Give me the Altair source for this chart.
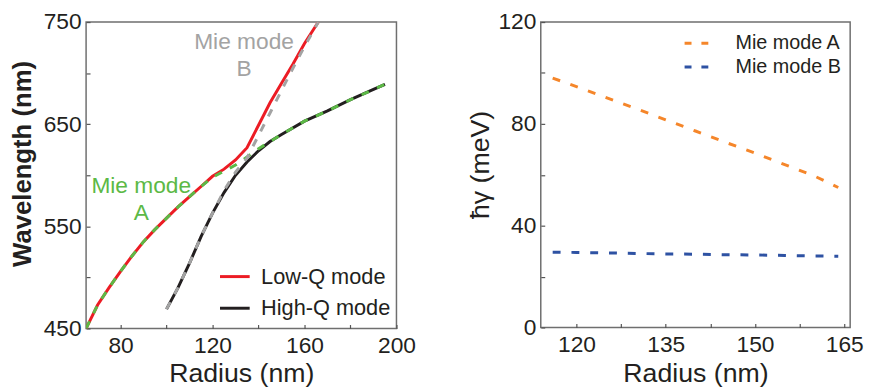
import altair as alt
import pandas as pd

# ---------------- Left panel data (wavelength vs radius) ----------------
low_q_r = [65, 70, 75, 80, 85, 90, 95, 100, 105, 110, 115, 120, 125, 130,
           135, 140, 145, 150, 155, 160, 166]
low_q_wl = [450, 473, 490, 506, 521, 535, 547, 558, 569, 579, 589, 599, 606, 615,
            627, 649, 671, 690, 709, 729, 750]

high_q_r = [100, 105, 110, 115, 120, 125, 130, 135, 140, 145, 150, 160, 170, 180, 190, 195]
high_q_wl = [469, 490, 514, 540, 563, 583, 600, 613, 624, 633, 640, 653, 663, 674, 684, 689]

mie_a_r = [65, 70, 75, 80, 85, 90, 95, 100, 105, 110, 115, 120, 125, 130, 135,
           140, 145, 150, 160, 170, 180, 190, 195]
mie_a_wl = [450, 473, 490, 506, 521, 535, 547, 558, 569, 579, 589, 598, 604, 610, 618,
            626, 633, 640, 653, 663, 674, 684, 689]

mie_b_r = [100, 105, 110, 115, 120, 125, 130, 135, 140, 145, 150, 155, 160, 166]
mie_b_wl = [469, 490, 514, 540, 563, 585, 603, 617, 639, 661, 683, 705, 726, 750]

ann_text = ["Mie mode", "B", "Mie mode", "A"]
ann_r = [133.7, 133.7, 89.0, 89.0]
ann_wl = [723.5, 696.8, 583.1, 556.1]
ann_group = ["B", "B", "A", "A"]

left_modes = ["Low-Q mode", "High-Q mode"]
left_colors = ["#ec1c24", "#231f20"]

# ---------------- Right panel data (damping vs radius) ----------------
gamma_r = [116, 120, 125, 130, 135, 140, 145, 150, 155, 160, 164]
gamma_a = [98.0, 94.6, 90.3, 86.0, 81.6, 77.2, 72.8, 68.5, 64.0, 59.5, 55.0]
gamma_b = [29.6, 29.5, 29.3, 29.1, 28.9, 28.8, 28.6, 28.5, 28.3, 28.1, 28.0]
right_modes = ["Mie mode A", "Mie mode B"]
right_colors = ["#f5862a", "#2e52a3"]

left_x_ticks = [80, 100, 120, 140, 160, 180, 200]
left_y_ticks = [450, 500, 550, 600, 650, 700, 750]
right_x_ticks = [120, 127.5, 135, 142.5, 150, 157.5, 165]
right_y_ticks = [0, 20, 40, 60, 80, 100, 120]

FONT = "Liberation Sans"
TXT = "#231f20"
GREEN = "#5cb946"
GRAY = "#a3a3a3"

solid_df = pd.DataFrame({
    "r": low_q_r + high_q_r,
    "wl": low_q_wl + high_q_wl,
    "mode": [left_modes[0]] * len(low_q_r) + [left_modes[1]] * len(high_q_r),
})
mie_a_df = pd.DataFrame({"r": mie_a_r, "wl": mie_a_wl})
mie_b_df = pd.DataFrame({"r": mie_b_r, "wl": mie_b_wl})
ann_df = pd.DataFrame({"r": ann_r, "wl": ann_wl, "label": ann_text, "g": ann_group})

right_df = pd.DataFrame({
    "r": gamma_r + gamma_r,
    "g": gamma_a + gamma_b,
    "mode": [right_modes[0]] * len(gamma_r) + [right_modes[1]] * len(gamma_r),
})


def axis(values, label_expr, title, bold=False, lab_pad=6, title_pad=0, title_y=None):
    kw = dict(
        values=values, labelExpr=label_expr, title=title, domain=False,
        offset=-4, tickSize=4, tickWidth=1.2, tickColor="#555555",
        labelFont=FONT, labelFontSize=23, labelColor=TXT, labelPadding=lab_pad,
        labelFlush=False, labelOverlap=False, grid=False,
        titleFont=FONT, titleFontSize=26 if bold else 27,
        titleFontWeight="bold" if bold else "normal", titleColor=TXT,
        titlePadding=title_pad,
    )
    if title_y is not None:
        kw["titleY"] = title_y
    return alt.Axis(**kw)


xL = alt.X("r:Q", scale=alt.Scale(domain=[65, 200], nice=False, zero=False),
           axis=axis(left_x_ticks, "datum.value % 40 == 0 ? datum.label : ''", "Radius (nm)",
                     lab_pad=6, title_pad=3.5))
yL = alt.Y("wl:Q", scale=alt.Scale(domain=[450, 750], nice=False, zero=False),
           axis=axis(left_y_ticks, "datum.value % 100 == 50 ? datum.label : ''",
                     "Wavelength (nm)", bold=True, lab_pad=5, title_pad=8, title_y=143))

solid = alt.Chart(solid_df).mark_line(strokeWidth=3, clip=True).encode(
    x=xL, y=yL,
    color=alt.Color("mode:N", scale=alt.Scale(domain=left_modes, range=left_colors),
                    legend=alt.Legend(orient="none", legendX=134, legendY=241, title=None,
                                      symbolType="stroke", symbolSize=900, symbolStrokeWidth=3,
                                      labelFont=FONT, labelFontSize=22, labelColor=TXT,
                                      labelOffset=10, rowPadding=4, padding=0)),
)
dash_a = alt.Chart(mie_a_df).mark_line(strokeWidth=3, color=GREEN, strokeDash=[8, 9], clip=True).encode(x=xL, y=yL)
dash_b = alt.Chart(mie_b_df).mark_line(strokeWidth=3, color=GRAY, strokeDash=[8, 9], clip=True).encode(x=xL, y=yL)
text_b = alt.Chart(ann_df).transform_filter("datum.g == 'B'").mark_text(
    font=FONT, fontSize=23, color=GRAY, align="center", baseline="alphabetic").encode(
    x=xL, y=yL, text="label:N")
text_a = alt.Chart(ann_df).transform_filter("datum.g == 'A'").mark_text(
    font=FONT, fontSize=23, color=GREEN, align="center", baseline="alphabetic").encode(
    x=xL, y=yL, text="label:N")

left = alt.layer(solid, dash_a, dash_b, text_b, text_a).properties(width=314, height=310)

xR = alt.X("r:Q", scale=alt.Scale(domain=[114, 166], nice=False, zero=False),
           axis=axis(right_x_ticks, "datum.value % 15 == 0 ? datum.label : ''", "Radius (nm)",
                     lab_pad=6, title_pad=4.4))
yR = alt.Y("g:Q", scale=alt.Scale(domain=[0, 120], nice=False, zero=False),
           axis=axis(right_y_ticks, "datum.value % 40 == 0 ? datum.label : ''", "ħγ (meV)",
                     lab_pad=5, title_pad=4, title_y=144))

right = alt.Chart(right_df).mark_line(strokeWidth=3, strokeDash=[8, 11]).encode(
    x=xR, y=yR,
    color=alt.Color("mode:N", scale=alt.Scale(domain=right_modes, range=right_colors),
                    legend=alt.Legend(orient="none", legendX=144, legendY=8, title=None,
                                      symbolType="stroke", symbolSize=576, symbolStrokeWidth=3,
                                      symbolDash=[7, 10],
                                      labelFont=FONT, labelFontSize=20, labelColor=TXT,
                                      labelOffset=26, rowPadding=0, padding=0)),
).properties(width=313, height=309)

chart = alt.hconcat(left, right, spacing=49).resolve_scale(color="independent").configure_view(
    stroke="#6f6f6f", strokeWidth=1.5
).properties(padding={"top": 0, "left": 0, "right": 0, "bottom": 0})

chart.save("out.html", embed_options={"renderer": "svg", "actions": False})
